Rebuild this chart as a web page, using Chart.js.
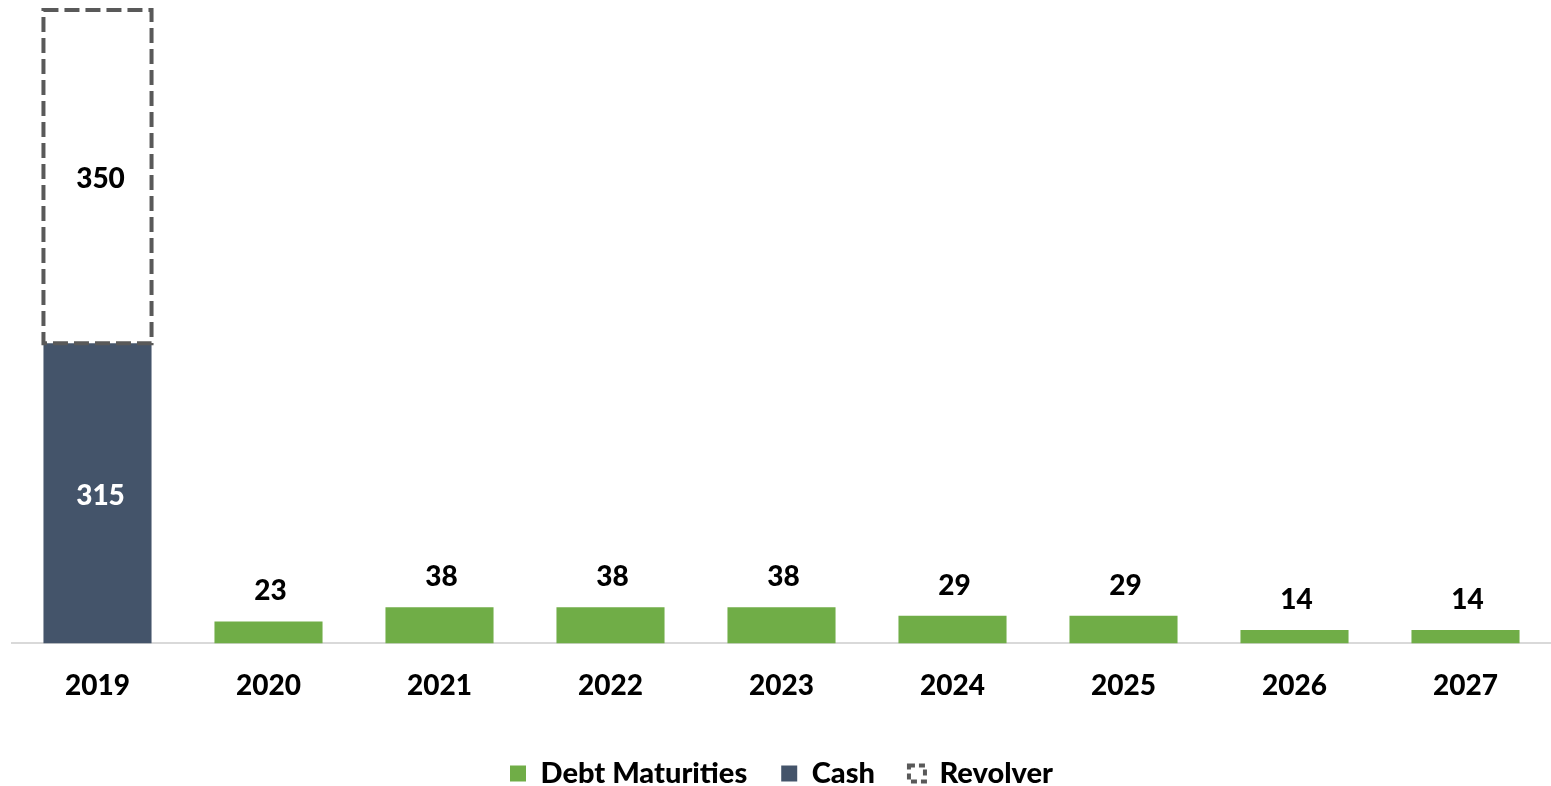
<!DOCTYPE html>
<html lang="en">
<head>
  <meta charset="UTF-8">
  <title>Debt Maturities vs Liquidity</title>
  <script src="https://cdn.jsdelivr.net/npm/chart.js"></script>
  <style>
    html, body { margin: 0; padding: 0; background: #fff; }
    .wrap { width: 1551px; height: 786px; position: relative; }
  </style>
</head>
<body>
  <div class="wrap">
    <canvas id="graficoVencimentos"></canvas>
  </div>

  <script>
    const years = ['2019', '2020', '2021', '2022', '2023', '2024', '2025', '2026', '2027'];
    const debtMaturities = [null, 23, 38, 38, 38, 29, 29, 14, 14];
    const cash = [315, null, null, null, null, null, null, null, null];
    const revolver = [350, null, null, null, null, null, null, null, null];

    const green = '#70ad47';
    const navy = '#44546a';
    const dashGrey = '#595959';
    const fontFamily = 'Lato, "Open Sans", sans-serif';
    const heavy = '900';

    // dashed outline for the revolver bar + value labels
    const barExtras = {
      id: 'barExtras',
      afterDatasetsDraw(chart) {
        const ctx = chart.ctx;
        ctx.save();

        const revMeta = chart.getDatasetMeta(2);
        revMeta.data.forEach((bar, i) => {
          if (revolver[i] == null) return;
          const p = bar.getProps(['x', 'y', 'base', 'width'], true);
          ctx.strokeStyle = dashGrey;
          ctx.lineWidth = 4;
          ctx.setLineDash([15, 6]);
          ctx.strokeRect(p.x - p.width / 2, p.y, p.width, p.base - p.y);
        });
        ctx.setLineDash([]);

        ctx.font = heavy + ' 28px ' + fontFamily;
        ctx.textAlign = 'center';

        chart.getDatasetMeta(0).data.forEach((bar, i) => {
          if (debtMaturities[i] == null) return;
          ctx.fillStyle = '#000';
          ctx.textBaseline = 'alphabetic';
          ctx.fillText(debtMaturities[i], bar.x + 2, bar.y - 21);
        });

        chart.getDatasetMeta(1).data.forEach((bar, i) => {
          if (cash[i] == null) return;
          ctx.fillStyle = '#fff';
          ctx.textBaseline = 'middle';
          ctx.fillText(cash[i], bar.x + 3, (bar.y + bar.base) / 2 + 3);
        });

        revMeta.data.forEach((bar, i) => {
          if (revolver[i] == null) return;
          ctx.fillStyle = '#000';
          ctx.textBaseline = 'middle';
          ctx.fillText(revolver[i], bar.x + 3, (bar.y + bar.base) / 2 + 2);
        });

        ctx.restore();
      }
    };

    new Chart(document.getElementById('graficoVencimentos'), {
      type: 'bar',
      data: {
        labels: years,
        datasets: [
          { label: 'Debt Maturities', data: debtMaturities, backgroundColor: green },
          { label: 'Cash', data: cash, backgroundColor: navy },
          { label: 'Revolver', data: revolver, backgroundColor: 'rgba(255,255,255,0)' }
        ]
      },
      options: {
        responsive: true,
        maintainAspectRatio: false,
        animation: false,
        categoryPercentage: 0.8,
        barPercentage: 0.79,
        layout: { padding: { top: 10, left: 12, right: 0, bottom: -12 } },
        scales: {
          x: {
            stacked: true,
            grid: { display: false },
            border: { display: true, color: '#d9d9d9', width: 2 },
            ticks: {
              color: '#000',
              padding: 18,
              font: { family: fontFamily, size: 28, weight: heavy }
            },
            afterFit(scale) { scale.height += 4; }
          },
          y: {
            stacked: true,
            display: false,
            min: 0,
            max: 665
          }
        },
        plugins: {
          tooltip: { enabled: false },
          legend: {
            position: 'bottom',
            labels: {
              color: '#000',
              boxWidth: 16,
              boxHeight: 16,
              padding: 34,
              font: { family: fontFamily, size: 29, weight: heavy },
              generateLabels: () => [
                { text: 'Debt Maturities', fillStyle: green, strokeStyle: green, lineWidth: 0, datasetIndex: 0 },
                { text: 'Cash', fillStyle: navy, strokeStyle: navy, lineWidth: 0, datasetIndex: 1 },
                { text: 'Revolver', fillStyle: '#fff', strokeStyle: dashGrey, lineWidth: 4, lineDash: [6, 4], datasetIndex: 2 }
              ]
            }
          }
        }
      },
      plugins: [barExtras]
    });
  </script>
</body>
</html>
